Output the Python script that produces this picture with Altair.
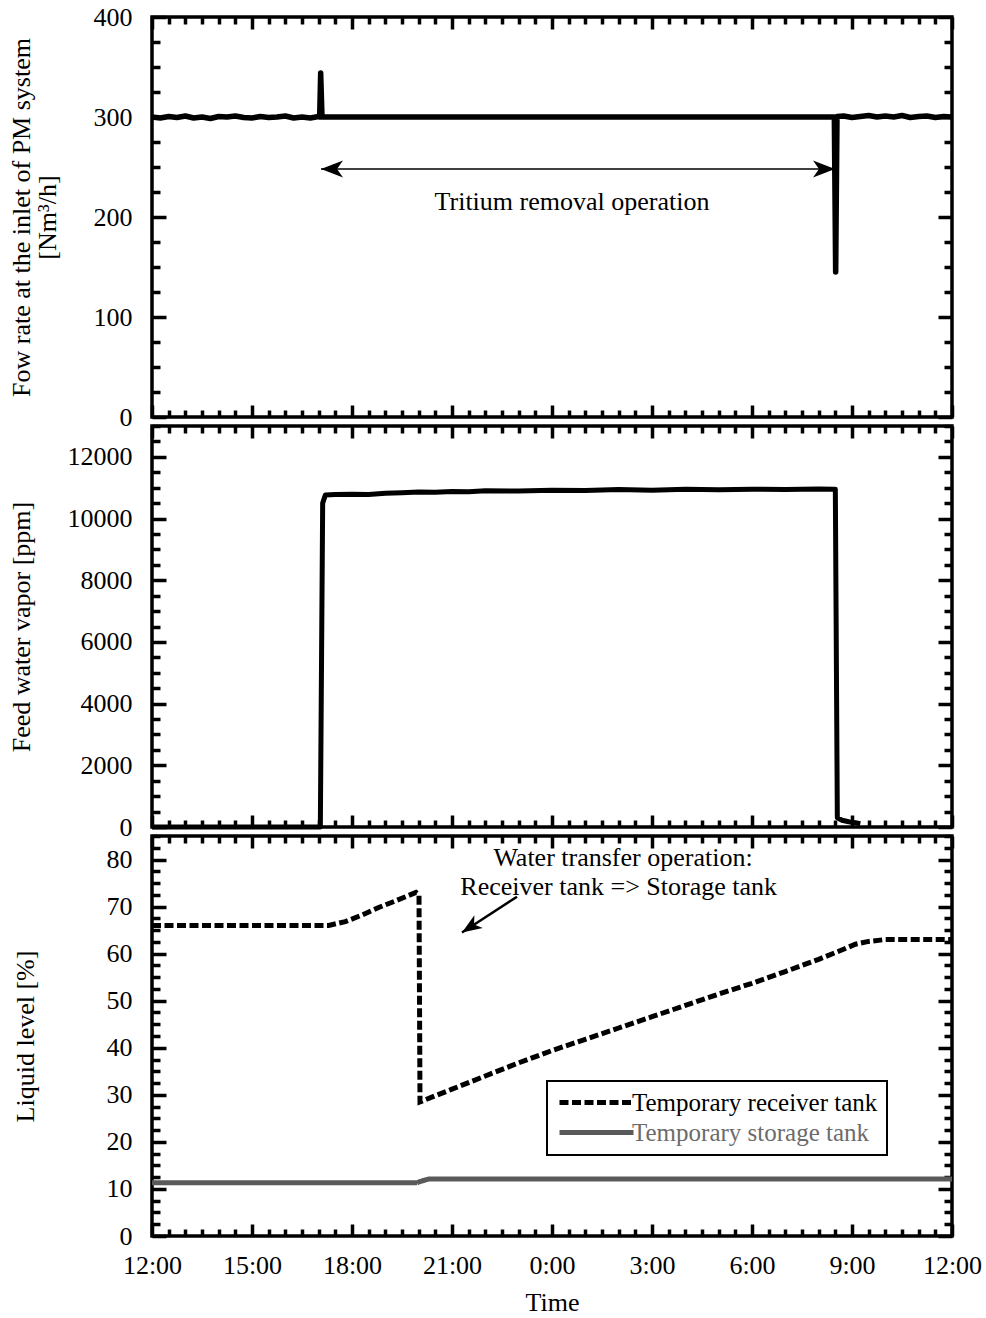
import altair as alt
import pandas as pd

FONT = "Liberation Serif"

# ---------------- data (hours elapsed since 12:00) ----------------
flow_hours = [0.0, 0.25, 0.5, 0.75, 1.0, 1.25, 1.5, 1.75, 2.0, 2.25, 2.5, 2.75, 3.0, 3.25,
              3.5, 3.75, 4.0, 4.25, 4.5, 4.75, 5.0, 5.03, 5.06, 5.1, 8.0, 12.0, 16.0,
              20.47, 20.51, 20.55, 20.75, 21.0, 21.25, 21.5, 21.75, 22.0, 22.25, 22.5,
              22.75, 23.0, 23.25, 23.5, 23.75, 24.0]
flow_values = [300, 299, 300.5, 299.5, 301, 299, 300, 298.5, 300.5, 300, 301, 299.5, 299, 300.5,
               299.5, 300, 301, 299, 300, 299, 300.5, 300, 344, 300, 300, 300, 300,
               300, 145, 300.5, 301, 299.5, 300.5, 301.5, 300, 301, 300, 301.5,
               299.5, 300.5, 301, 299.5, 300.5, 300]

vapor_hours = [0.0, 5.05, 5.12, 5.2, 5.5, 6.0, 6.5, 7.0, 7.5, 8.0, 8.5, 9.0, 9.5, 10.0,
               11.0, 12.0, 13.0, 14.0, 15.0, 16.0, 17.0, 18.0, 19.0, 20.0, 20.45, 20.5,
               20.56, 20.7, 20.9, 21.1, 21.25]
vapor_values = [0, 0, 10500, 10760, 10780, 10790, 10780, 10820, 10840, 10860, 10850,
                10880, 10870, 10900, 10890, 10920, 10910, 10940, 10920, 10950, 10930,
                10950, 10940, 10960, 10950, 10950, 300, 220, 170, 140, 110]

receiver_hours = [0.0, 5.3, 5.8, 6.3, 6.8, 7.3, 7.92, 8.01, 8.04, 9.0, 10.0, 11.0, 12.0,
                  13.0, 14.0, 15.0, 16.0, 17.0, 18.0, 19.0, 20.0, 20.6, 21.1, 21.5, 22.0,
                  23.0, 24.0]
receiver_values = [66, 66, 66.8, 68.2, 69.8, 71.2, 73, 72.5, 28.5, 31.2, 34.0, 36.8, 39.4,
                   41.8, 44.2, 46.6, 49.0, 51.4, 53.7, 56.2, 58.8, 60.5, 62.0, 62.6, 63.0,
                   63.0, 63.0]

storage_hours = [0.0, 7.95, 8.05, 8.3, 24.0]
storage_values = [11.3, 11.3, 11.6, 12.1, 12.1]

series_names = ["Temporary receiver tank", "Temporary storage tank"]
tick_hours = [0, 3, 6, 9, 12, 15, 18, 21, 24]

# annotations
top_arrow = pd.DataFrame({"t": [5.07], "t2": [20.49], "v": [248], "v2": [248]})
top_heads = pd.DataFrame({"t": [5.07, 20.49], "v": [248, 248], "ang": [180, 0]})
top_text = pd.DataFrame({"t": [12.6], "v": [215], "label": ["Tritium removal operation"]})

bot_arrow = pd.DataFrame({"t": [10.95], "t2": [9.3], "v": [72.1], "v2": [64.5]})
bot_heads = pd.DataFrame({"t": [9.3], "v": [64.5], "ang": [146.8]})
bot_text = pd.DataFrame({"t": [14.13, 14.0], "v": [80.4, 74.1],
                         "label": ["Water transfer operation:", "Receiver tank => Storage tank"]})

flow_df = pd.DataFrame({"t": flow_hours, "v": flow_values})
vapor_df = pd.DataFrame({"t": vapor_hours, "v": vapor_values})
level_df = pd.concat([
    pd.DataFrame({"t": receiver_hours, "v": receiver_values, "series": series_names[0]}),
    pd.DataFrame({"t": storage_hours, "v": storage_values, "series": series_names[1]}),
], ignore_index=True)

ARROW = "M0,0L-2.2,-0.85L-1.6,0L-2.2,0.85Z"
LEGEND_LINE = "M-1.8,0L13.0,0"
X_MINOR = [i * 0.5 for i in range(49)]
W = 800


def tick_axis(orient, offset, values, test, major, minor):
    return alt.Axis(orient=orient, offset=offset, values=values, labels=False,
                    domain=False, grid=False, title=None, ticks=True,
                    tickColor="black", tickWidth=3.5,
                    tickSize={"condition": {"test": test, "value": major}, "value": minor})


def panel(H, ydom, ystep_minor, ymajor_vals, ytest, title, title_x, data_layers,
          extra_layers, xlabels):
    xs = alt.Scale(domain=[0, 24], nice=False, zero=False)
    ys = alt.Scale(domain=ydom, nice=False, zero=False)
    y_minor = [round(i * ystep_minor, 3) for i in range(int(round(ydom[1] / ystep_minor)) + 1)]
    frame = pd.DataFrame({"t": [0, 24], "v": [ydom[0], ydom[1]]})

    layers = []
    first = True
    for mk in data_layers:
        if first:
            xa = tick_axis("top", -H, X_MINOR, "datum.value % 3 === 0", 12, 7)
            ya = tick_axis("right", -W, y_minor, ytest, 14, 8)
            first = False
        else:
            xa, ya = None, None
        layers.append(mk.encode(x=alt.X("t:Q", scale=xs, axis=xa),
                                y=alt.Y("v:Q", scale=ys, axis=ya)))

    layers.append(alt.Chart(frame).mark_line(opacity=0).encode(
        x=alt.X("t:Q", scale=xs, axis=tick_axis("bottom", -H, X_MINOR, "datum.value % 3 === 0", 12, 7)),
        y=alt.Y("v:Q", scale=ys, axis=tick_axis("left", -W, y_minor, ytest, 14, 8)),
    ))

    if xlabels:
        xl = alt.Axis(orient="bottom", values=tick_hours, ticks=False, domain=False, grid=False,
                      labelPadding=16, labelExpr="((datum.value + 12) % 24) + ':00'",
                      title="Time", titleY=66, titleBaseline="middle")
    else:
        xl = None
    yl = alt.Axis(orient="left", values=ymajor_vals, ticks=False, domain=False, grid=False,
                  labelPadding=20, format="d", title=title, titleX=title_x, titleY=H / 2,
                  titleBaseline="middle", titleLineHeight=26)
    layers.append(alt.Chart(frame).mark_line(opacity=0).encode(
        x=alt.X("t:Q", scale=xs, axis=xl),
        y=alt.Y("v:Q", scale=ys, axis=yl),
    ))

    for ch in extra_layers:
        enc = {"x": alt.X("t:Q", scale=xs, axis=None), "y": alt.Y("v:Q", scale=ys, axis=None)}
        layers.append(ch(enc))

    return alt.layer(*layers).resolve_axis(x="independent", y="independent").properties(
        width=W, height=H)


def rule_layer(df, width):
    return lambda enc: alt.Chart(df).mark_rule(color="black", strokeWidth=width).encode(
        x=enc["x"], y=enc["y"], x2="t2:Q", y2="v2:Q")


def head_layer(df, size):
    return lambda enc: alt.Chart(df).mark_point(shape=ARROW, filled=True, opacity=1,
                                                color="black", size=size, strokeWidth=0).encode(
        x=enc["x"], y=enc["y"], angle=alt.Angle("ang:Q", scale=None))


def text_layer(df):
    return lambda enc: alt.Chart(df).mark_text(font=FONT, fontSize=26, color="black",
                                               align="center", baseline="middle").encode(
        x=enc["x"], y=enc["y"], text="label:N")


top = panel(
    400, [0, 400], 25, [0, 100, 200, 300, 400], "datum.value % 100 === 0",
    ["Fow rate at the inlet of PM system", "[Nm³/h]"], -131,
    [alt.Chart(flow_df).mark_line(color="black", strokeWidth=5.5, strokeJoin="round")],
    [rule_layer(top_arrow, 1.5), head_layer(top_heads, 400), text_layer(top_text)],
    False,
)

mid = panel(
    401, [0, 13000], 500, [0, 2000, 4000, 6000, 8000, 10000, 12000], "datum.value % 2000 === 0",
    "Feed water vapor [ppm]", -131,
    [alt.Chart(vapor_df).mark_line(color="black", strokeWidth=5, strokeJoin="round")],
    [],
    False,
)

legend = alt.Legend(title=None, orient="none", legendX=395, legendY=1064, symbolType=LEGEND_LINE,
                    symbolSize=100, symbolStrokeWidth=5, labelFont=FONT, labelFontSize=25,
                    labelColor=alt.ExprRef(expr="datum.label === 'Temporary storage tank' ? '#6b6b6b' : 'black'"),
                    labelLimit=500,
                    strokeColor="black", fillColor="white", padding=9, rowPadding=4, labelOffset=51)

level_line = alt.Chart(level_df).mark_line(strokeWidth=5).encode(
    color=alt.Color("series:N", scale=alt.Scale(domain=series_names, range=["black", "#5a5a5a"]),
                    legend=legend),
    strokeDash=alt.StrokeDash("series:N", scale=alt.Scale(domain=series_names,
                                                          range=[[9, 3.5], [1, 0]]),
                              legend=legend),
)

bot = panel(
    400, [0, 85], 2.5, [0, 10, 20, 30, 40, 50, 60, 70, 80], "datum.value % 10 === 0",
    "Liquid level [%]", -127,
    [level_line],
    [rule_layer(bot_arrow, 2.5), head_layer(bot_heads, 324), text_layer(bot_text)],
    True,
)

chart = alt.vconcat(top, mid, bot, spacing=9, bounds="flush").properties(
    padding={"left": 6, "top": 2, "right": 2, "bottom": 2},
).configure_view(
    stroke="black", strokeWidth=3.5
).configure_axis(
    labelFont=FONT, labelFontSize=26, labelColor="black", titleFont=FONT, titleFontSize=26,
    titleFontWeight="normal", titleColor="black", labelFlush=False, labelOverlap=False
).configure_legend(
    strokeWidth=2
)

chart.save("out.html", embed_options={"renderer": "svg", "actions": False})
